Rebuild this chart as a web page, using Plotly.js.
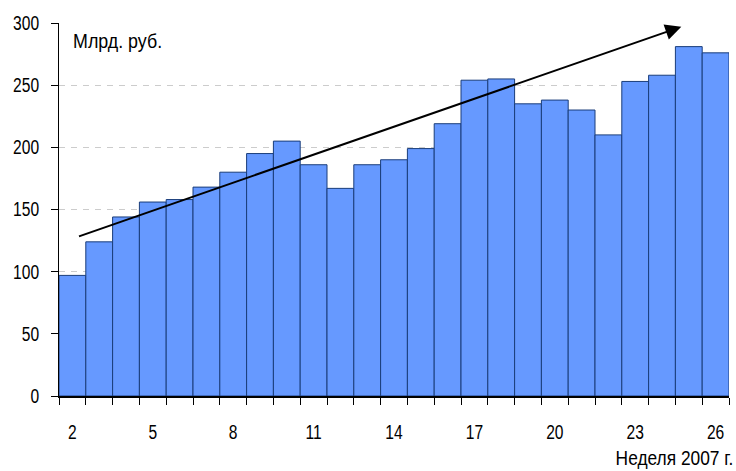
<!DOCTYPE html>
<html>
<head>
<meta charset="utf-8">
<script src="https://cdn.plot.ly/plotly-3.0.1.min.js"></script>
<style>html,body{margin:0;padding:0;background:#fff}#chart{width:736px;height:471px}</style>
</head>
<body>
<div id="chart"></div>
<script>
var weeks = [2,3,4,5,6,7,8,9,10,11,12,13,14,15,16,17,18,19,20,21,22,23,24,25,26];
var values = [97,124,144,156,158,168,180,195,205,186,167,186,190,199,219,254,255,235,238,230,210,253,258,281,276];
var xTicks = [2,5,8,11,14,17,20,23,26];
var yTicks = [0,50,100,150,200,250,300];
var unitLabel = 'Млрд. руб.';
var xLabel = 'Неделя 2007 г.';
var trendStart = [2.19, 128];
var trendEnd = [24.72, 297];

var FONT = '"Liberation Sans", Arial, sans-serif';
var FS = 19.5;

var data = [{
  type: 'bar',
  x: weeks,
  y: values,
  width: 1,
  marker: {color: '#6699ff', line: {color: '#1a3d7a', width: 1}},
  hoverinfo: 'x+y'
}];

var layout = {
  width: 736, height: 471,
  margin: {l: 59, r: 7, t: 22.5, b: 74.7},
  paper_bgcolor: '#fff', plot_bgcolor: '#fff',
  showlegend: false,
  bargap: 0,
  font: {family: FONT, size: FS, color: '#000'},
  xaxis: {
    range: [1.5, 26.5],
    tickmode: 'array', tickvals: xTicks, ticktext: xTicks.map(String),
    ticks: '', ticklabelstandoff: 18,
    showgrid: false, zeroline: false,
    showline: true, linecolor: '#000', linewidth: 1.5,
    minor: {tick0: 1.5, dtick: 1, ticks: 'outside', ticklen: 7, tickcolor: '#000', tickwidth: 1, showgrid: false},
    tickfont: {family: FONT, size: FS, color: '#000'}
  },
  yaxis: {
    range: [0, 300],
    tickmode: 'array', tickvals: yTicks, ticktext: yTicks.map(String),
    ticks: 'outside', ticklen: 7, tickcolor: '#000', tickwidth: 1,
    ticklabelstandoff: 8,
    showgrid: true, gridcolor: '#cccccc', griddash: '6px,6px', gridwidth: 1,
    zeroline: false,
    showline: true, linecolor: '#000', linewidth: 1,
    tickfont: {family: FONT, size: FS, color: '#000'}
  },
  annotations: [
    {xref: 'paper', yref: 'paper', x: 0.018, y: 0.953, xanchor: 'left', yanchor: 'middle',
     text: unitLabel, showarrow: false, font: {family: FONT, size: FS, color: '#000'}},
    {xref: 'paper', yref: 'paper', x: 1.009, y: -0.166, xanchor: 'right', yanchor: 'middle',
     text: xLabel, showarrow: false, font: {family: FONT, size: FS, color: '#000'}},
    {xref: 'x', yref: 'y', axref: 'x', ayref: 'y',
     x: trendEnd[0], y: trendEnd[1], ax: trendStart[0], ay: trendStart[1],
     text: '', showarrow: true, arrowhead: 2, arrowsize: 1.6, arrowwidth: 2, arrowcolor: '#000'}
  ]
};

function squeeze(el, mode, s) {
  var bb = el.getBBox();
  if (!bb.width) return;
  var px = mode === 'left' ? bb.x : (mode === 'right' ? bb.x + bb.width : bb.x + bb.width / 2);
  var t = el.getAttribute('transform') || '';
  el.setAttribute('transform', t + ' translate(' + px + ',0) scale(' + s + ',1) translate(' + (-px) + ',0)');
}

Plotly.newPlot('chart', data, layout, {displayModeBar: false, staticPlot: true}).then(function (gd) {
  gd.querySelectorAll('.xtick text').forEach(function (el) { squeeze(el, 'middle', 0.8); });
  gd.querySelectorAll('.ytick text').forEach(function (el) { squeeze(el, 'right', 0.8); });
  gd.querySelectorAll('.annotation-text').forEach(function (el) {
    var txt = el.textContent;
    if (txt === unitLabel) squeeze(el, 'left', 0.915);
    else if (txt === xLabel) squeeze(el, 'right', 0.89);
  });
});
</script>
</body>
</html>
